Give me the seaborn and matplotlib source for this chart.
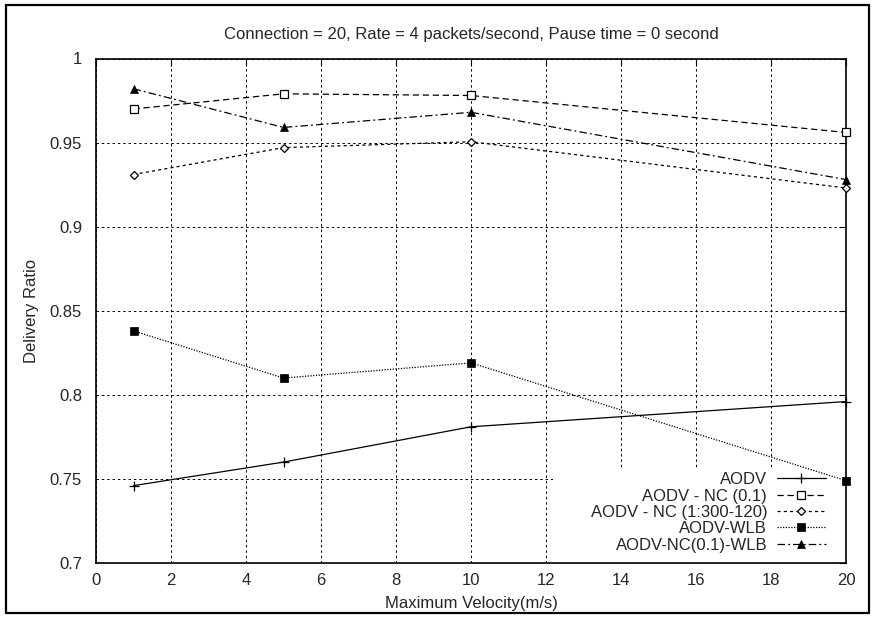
import matplotlib
matplotlib.use("Agg")
import matplotlib.pyplot as plt
from matplotlib.patches import Rectangle
import seaborn as sns
import pandas as pd

velocity = [1, 5, 10, 20]
aodv = [0.746, 0.760, 0.781, 0.796]
aodv_nc01 = [0.970, 0.979, 0.978, 0.956]
aodv_nc1300 = [0.931, 0.947, 0.9505, 0.923]
aodv_wlb = [0.838, 0.810, 0.819, 0.749]
aodv_nc_wlb = [0.982, 0.959, 0.968, 0.928]

labels = ["AODV", "AODV - NC (0.1)", "AODV - NC (1:300-120)", "AODV-WLB", "AODV-NC(0.1)-WLB"]
series = [aodv, aodv_nc01, aodv_nc1300, aodv_wlb, aodv_nc_wlb]

title = "Connection = 20, Rate = 4 packets/second, Pause time = 0 second"
xlabel = "Maximum Velocity(m/s)"
ylabel = "Delivery Ratio"
xticks = list(range(0, 21, 2))
yticks = [0.7, 0.75, 0.8, 0.85, 0.9, 0.95, 1.0]
yticklabels = ["0.7", "0.75", "0.8", "0.85", "0.9", "0.95", "1"]

sns.set_theme(style="white")
plt.rcParams["font.family"] = ["Liberation Sans", "DejaVu Sans"]
plt.rcParams["font.size"] = 12

fig = plt.figure(figsize=(8.75, 6.19), dpi=100)
ax = fig.add_axes([96 / 875, 1 - 563 / 619, 750 / 875, 504.5 / 619])

# outer border
fig.patches.append(Rectangle((6 / 875, 6.5 / 619), 863 / 875, 607.5 / 619,
                             transform=fig.transFigure, fill=False,
                             edgecolor="black", linewidth=1.6, zorder=10))

styles = [
    dict(linestyle="-", marker="+", markersize=6.5, markeredgewidth=0.9,
         markerfacecolor="black"),
    dict(linestyle=(0, (5, 3)), marker="s", markersize=5.8, markeredgewidth=0.9,
         markerfacecolor="white"),
    dict(linestyle=(0, (2.5, 2.5)), marker="D", markersize=4.2, markeredgewidth=0.9,
         markerfacecolor="white"),
    dict(linestyle=(0, (1, 1.2)), marker="s", markersize=5.8, markeredgewidth=0.5,
         markerfacecolor="black"),
    dict(linestyle=(0, (6, 2.5, 1.5, 2.5)), marker="^", markersize=5.2,
         markeredgewidth=0.5, markerfacecolor="black"),
]

for lab, vals, st in zip(labels, series, styles):
    df = pd.DataFrame({"x": velocity, "y": vals})
    sns.lineplot(data=df, x="x", y="y", ax=ax, label=lab, linewidth=0.9,
                 color="black", markeredgecolor="black",
                 zorder=3, clip_on=False, **st)

ax.set_xlim(0, 20)
ax.set_ylim(0.7, 1.0)
ax.set_xticks(xticks)
ax.set_yticks(yticks)
ax.set_yticklabels(yticklabels)
ax.tick_params(direction="in", length=5, width=0.8, top=True, right=True,
               labelsize=12, color="black")
ax.tick_params(axis="x", pad=7)
ax.tick_params(axis="y", pad=10)

ax.set_axisbelow(True)
ax.grid(True, color="black", linestyle=(0, (2.5, 3)), linewidth=0.7)
for sp in ax.spines.values():
    sp.set_color("black")
    sp.set_linewidth(1.2)

# white key area covering the grid
ax.add_patch(Rectangle(((553 - 96) / 750, 0), 1 - (553 - 96) / 750, (563 - 470) / 504.5,
                       transform=ax.transAxes, facecolor="white", edgecolor="none",
                       zorder=1.5))

ax.set_title(title, fontsize=12, pad=14)
ax.set_xlabel(xlabel, fontsize=12, labelpad=6)
ax.set_ylabel(ylabel, fontsize=12, labelpad=8)

leg = ax.legend(loc="lower right", bbox_to_anchor=(0.9727, 0.0208), markerfirst=False,
                frameon=False, fontsize=12, handlelength=2.9, labelspacing=0.08,
                handletextpad=0.6, borderpad=0.0, borderaxespad=0.0)

fig.savefig("out.png", dpi=100)
